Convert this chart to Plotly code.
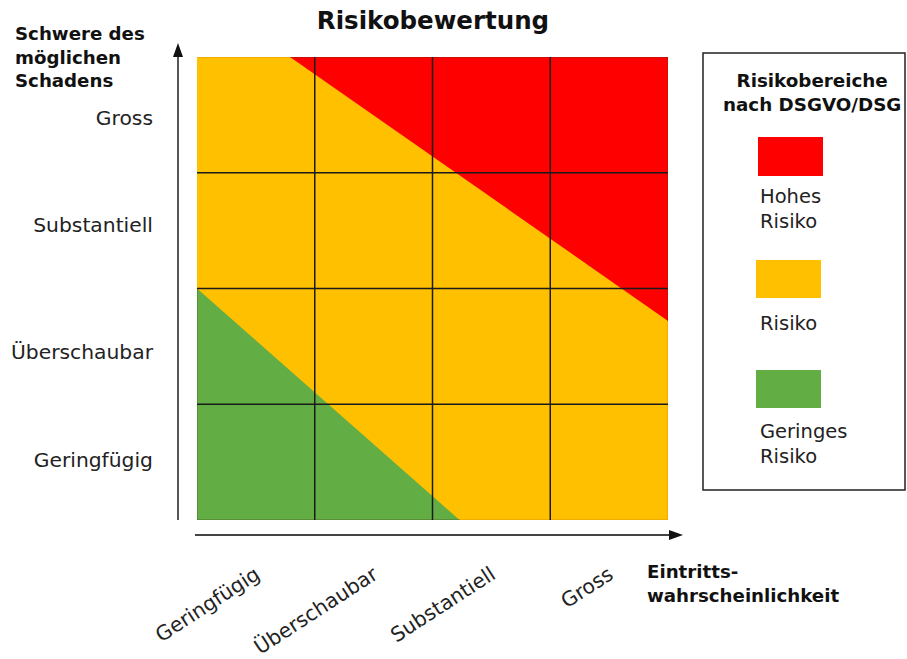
import plotly.graph_objects as go

# Rating scales (both axes use the same four levels)
likelihood_levels = ["Geringfügig", "Überschaubar", "Substantiell", "Gross"]
severity_levels = ["Geringfügig", "Überschaubar", "Substantiell", "Gross"]

# Risk zones in grid units (0..4 on each axis)
medium_risk_x = [0, 4, 4, 0]
medium_risk_y = [0, 0, 4, 4]
high_risk_x = [0.79, 4, 4]
high_risk_y = [4, 4, 1.72]
low_risk_x = [0, 0, 2.23]
low_risk_y = [2.0, 0, 0]

grid_lines = [1, 2, 3]

legend_items = ["Hohes<br>Risiko", "Risiko", "Geringes<br>Risiko"]

RED = "#FF0000"
ORANGE = "#FFC000"
GREEN = "#62AE44"
FONT = "DejaVu Sans"

W, H = 907, 659
L, R, T, B = 197, 239, 57, 139


def px(xpix):
    return (xpix - L) / (W - L - R)


def py(ypix):
    return (H - B - ypix) / (H - T - B)


fig = go.Figure()
edge = dict(color="rgba(70,60,30,0.55)", width=1)
fig.add_trace(go.Scatter(x=medium_risk_x, y=medium_risk_y, fill="toself", fillcolor=ORANGE,
                         mode="lines", line=dict(color="#E8A800", width=1.5), hoverinfo="skip"))
fig.add_trace(go.Scatter(x=high_risk_x, y=high_risk_y, fill="toself", fillcolor=RED,
                         mode="lines", line=edge, hoverinfo="skip"))
fig.add_trace(go.Scatter(x=low_risk_x, y=low_risk_y, fill="toself", fillcolor=GREEN,
                         mode="lines", line=edge, hoverinfo="skip"))

shapes = []
for g in grid_lines:
    shapes.append(dict(type="line", x0=g, x1=g, y0=0, y1=4, xref="x", yref="y",
                       line=dict(color="#1a1a1a", width=1.5), layer="above"))
    shapes.append(dict(type="line", x0=0, x1=4, y0=g, y1=g, xref="x", yref="y",
                       line=dict(color="#1a1a1a", width=1.5), layer="above"))

# Axis arrows (shaft + filled head), placed in paper space outside the plot area
AX_COL = "#444"
vx, vy0, vy1 = 178, 520, 43          # vertical arrow: x, bottom, tip (pixels)
hy, hx0, hx1 = 535, 195, 683         # horizontal arrow: y, start, tip (pixels)
head_len, head_half = 14, 5
shapes.append(dict(type="line", xref="paper", yref="paper", x0=px(vx), x1=px(vx),
                   y0=py(vy0), y1=py(vy1 + head_len), line=dict(color=AX_COL, width=1.8)))
shapes.append(dict(type="path", xref="paper", yref="paper", fillcolor="#111", line=dict(width=0),
                   path=f"M {px(vx - head_half)} {py(vy1 + head_len)} L {px(vx + head_half)} "
                        f"{py(vy1 + head_len)} L {px(vx)} {py(vy1)} Z"))
shapes.append(dict(type="line", xref="paper", yref="paper", x0=px(hx0), x1=px(hx1 - head_len),
                   y0=py(hy), y1=py(hy), line=dict(color=AX_COL, width=1.8)))
shapes.append(dict(type="path", xref="paper", yref="paper", fillcolor="#111", line=dict(width=0),
                   path=f"M {px(hx1 - head_len)} {py(hy - head_half)} L {px(hx1 - head_len)} "
                        f"{py(hy + head_half)} L {px(hx1)} {py(hy)} Z"))

# Legend panel
shapes.append(dict(type="rect", xref="paper", yref="paper", x0=px(703), x1=px(905),
                   y0=py(490), y1=py(53), line=dict(color="#222", width=1.5),
                   fillcolor="white", layer="below"))
swatches = [(RED, 758, 137, 823, 176), (ORANGE, 756, 260, 821, 298), (GREEN, 756, 370, 821, 408)]
for col, x0, y0, x1, y1 in swatches:
    shapes.append(dict(type="rect", xref="paper", yref="paper", x0=px(x0), x1=px(x1),
                       y0=py(y1), y1=py(y0), fillcolor=col, line=dict(width=0)))

annotations = []
# Axis titles
annotations.append(dict(x=px(13), y=py(21), xref="paper", yref="paper", xanchor="left", yanchor="top",
                        align="left", showarrow=False,
                        text="<b>Schwere des<br>möglichen<br>Schadens</b>",
                        font=dict(family=FONT, size=18.2, color="#111")))
annotations.append(dict(x=px(645), y=py(559), xref="paper", yref="paper", xanchor="left", yanchor="top",
                        align="left", showarrow=False,
                        text="<b>Eintritts-<br>wahrscheinlichkeit</b>",
                        font=dict(family=FONT, size=18.2, color="#111")))

# Legend text
annotations.append(dict(x=px(812), y=py(92), xref="paper", yref="paper", xanchor="center", yanchor="middle",
                        align="center", showarrow=False,
                        text="<b>Risikobereiche<br>nach DSGVO/DSG</b>",
                        font=dict(family=FONT, size=18.3, color="#111")))
legend_label_y = [209, 323, 444]
for label, yy in zip(legend_items, legend_label_y):
    annotations.append(dict(x=px(758), y=py(yy), xref="paper", yref="paper", xanchor="left",
                            yanchor="middle", align="left", showarrow=False, text=label,
                            font=dict(family=FONT, size=19.5, color="#222")))

fig.update_layout(
    width=W, height=H, autosize=False,
    margin=dict(l=L, r=R, t=T, b=B, autoexpand=False),
    paper_bgcolor="white", plot_bgcolor="white",
    showlegend=False,
    title=dict(text="<b>Risikobewertung</b>", x=px(433), xref="paper", xanchor="center",
               y=1 - 20 / H, yanchor="middle", font=dict(family=FONT, size=24.5, color="#111")),
    xaxis=dict(range=[0, 4], showgrid=False, zeroline=False, showline=False, ticks="",
               automargin=False,
               tickvals=[0.5, 1.5, 2.5, 3.5], ticktext=likelihood_levels, tickangle=-33,
               ticklabelstandoff=38, tickfont=dict(family=FONT, size=20.3, color="#222"),
               fixedrange=True),
    yaxis=dict(range=[0, 4], showgrid=False, zeroline=False, showline=False, ticks="",
               automargin=False,
               tickvals=[0.52, 1.45, 2.55, 3.47], ticktext=severity_levels,
               ticklabelstandoff=43, tickfont=dict(family=FONT, size=20.3, color="#222"),
               fixedrange=True),
    shapes=shapes,
    annotations=annotations,
)

fig.write_html("out.html")
